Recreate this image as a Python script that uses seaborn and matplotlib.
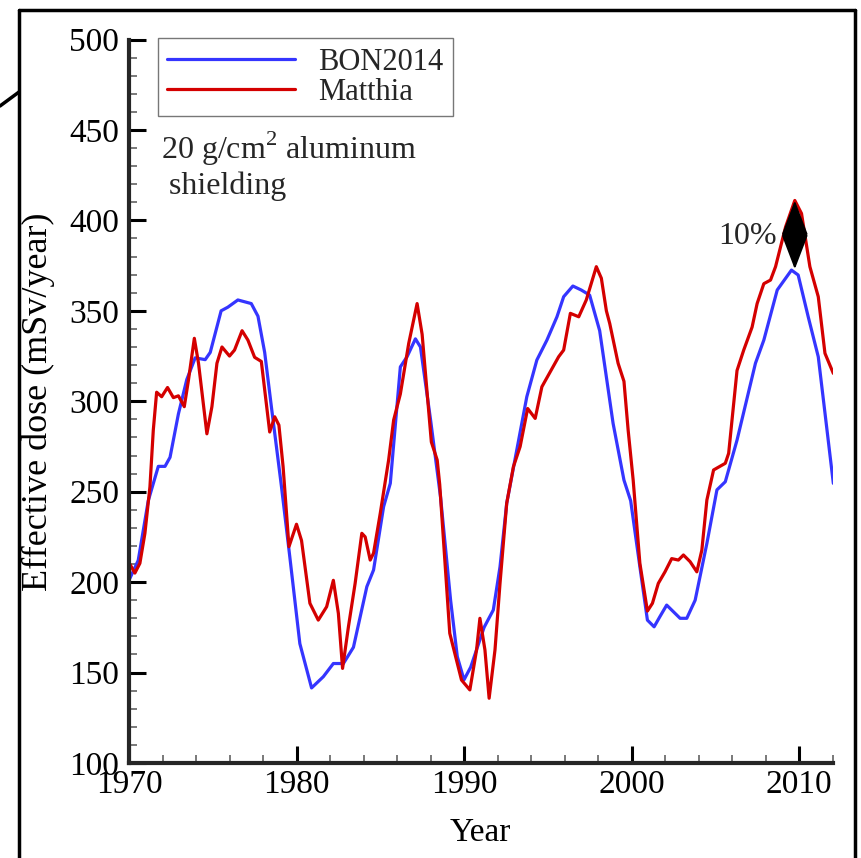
import numpy as np
import pandas as pd
import matplotlib
matplotlib.use("Agg")
import matplotlib.pyplot as plt
from matplotlib.lines import Line2D
from matplotlib.ticker import MultipleLocator
import seaborn as sns

# BON2014 model (blue)
bon_year = [1970.05, 1970.55, 1971.15, 1971.75, 1972.15, 1972.45, 1972.95, 1973.45, 1973.95, 1974.55,
            1974.85, 1975.5, 1975.9, 1976.5, 1977.3, 1977.7, 1978.1, 1978.5, 1979.1, 1979.6,
            1980.2, 1980.9, 1981.6, 1982.2, 1982.8, 1983.4, 1984.2, 1984.6, 1985.2, 1985.6,
            1986.2, 1986.6, 1987.1, 1987.4, 1988.0, 1988.6, 1989.2, 1989.6, 1990.0, 1990.4,
            1991.2, 1991.75, 1992.15, 1992.55, 1993.15, 1993.75, 1994.35, 1994.95, 1995.55, 1995.95,
            1996.5, 1997.0, 1997.5, 1998.1, 1998.9, 1999.55, 1999.95, 2000.5, 2000.95, 2001.35,
            2001.7, 2002.1, 2002.9, 2003.3, 2003.8, 2004.5, 2005.1, 2005.6, 2006.3, 2007.4,
            2007.9, 2008.7, 2009.55, 2009.95, 2010.55, 2011.15, 2011.65, 2012.05]
bon_dose = [202, 212, 245, 264, 264, 269, 293, 312, 324, 323,
            327, 350, 352, 356, 354, 347, 327, 297, 253, 214,
            166, 141.5, 147.7, 155, 155, 164, 197.5, 206.7, 241.7, 254.6,
            319, 324.6, 334.5, 330, 290, 247, 190, 158.8, 146, 153,
            175, 184.6, 208.5, 243.6, 273, 302.5, 322.8, 333.8, 346.7, 357.8,
            363.7, 361.5, 358.7, 339, 287.8, 256.4, 245, 208.5, 179, 175.3,
            181, 187.3, 180, 180, 190, 221.4, 251, 255.5, 278.5, 321,
            333.8, 361.5, 372.5, 369.8, 346.7, 324.6, 285.8, 254.6]

# Matthia model (red)
mat_year = [1970.05, 1970.35, 1970.65, 1970.95, 1971.25, 1971.45, 1971.65, 1971.95, 1972.3, 1972.65,
            1972.95, 1973.3, 1973.55, 1973.9, 1974.15, 1974.65, 1974.95, 1975.25, 1975.55, 1976.0,
            1976.3, 1976.75, 1977.1, 1977.5, 1977.9, 1978.4, 1978.7, 1978.95, 1979.2, 1979.55,
            1980.0, 1980.3, 1980.8, 1981.3, 1981.8, 1982.2, 1982.5, 1982.75, 1983.1, 1983.5,
            1983.9, 1984.1, 1984.4, 1984.6, 1985.0, 1985.5, 1985.8, 1986.2, 1986.7, 1987.2,
            1987.5, 1988.05, 1988.4, 1988.55, 1989.15, 1989.85, 1990.35, 1990.75, 1990.95, 1991.25,
            1991.5, 1991.85, 1992.15, 1992.55, 1992.95, 1993.35, 1993.8, 1994.25, 1994.65, 1995.15,
            1995.65, 1995.95, 1996.35, 1996.85, 1997.3, 1997.9, 1998.2, 1998.5, 1998.7, 1999.2,
            1999.55, 1999.8, 2000.1, 2000.5, 2000.95, 2001.25, 2001.6, 2002.0, 2002.4, 2002.8,
            2003.1, 2003.5, 2003.9, 2004.2, 2004.5, 2004.9, 2005.6, 2005.8, 2006.3, 2006.7,
            2007.2, 2007.5, 2007.9, 2008.3, 2008.6, 2009.2, 2009.75, 2010.15, 2010.65, 2011.15,
            2011.55, 2012.05]
mat_dose = [210, 205, 210.4, 227, 252.7, 284, 305, 302.5, 307.6, 302,
            303, 297, 311.7, 334.8, 321, 282, 297, 321, 330, 325,
            328.3, 339, 333.8, 324.3, 322, 283, 291.4, 286.8, 263.8, 219.6,
            232, 223, 188.3, 179, 186.4, 201, 182.7, 152.3, 175.3, 199.3,
            227, 225, 212.2, 216, 238, 267.5, 289.6, 304, 332, 354,
            337, 277.5, 267.5, 254, 171.7, 145.9, 140.4, 162.5, 180, 162.5,
            135.8, 162.5, 199.3, 243.6, 263.8, 274.9, 296, 290.5, 308, 316.3,
            324.6, 328.3, 348.6, 346.7, 356, 374.4, 368, 350, 343, 321,
            311, 284, 256.4, 210.4, 184, 188.3, 199.3, 205.7, 213, 212.2,
            215, 211.3, 205.7, 217.7, 245.4, 262, 265.7, 271.2, 317, 328.3,
            341, 354, 365, 367, 374.4, 396.4, 411, 403.8, 374.4, 357.8,
            326.5, 315.4]

models = ["BON2014", "Matthia"]
colors = ["#3535ff", "#d40000"]

# peak difference marked with the "10%" arrow
arrow_year = 2009.75
arrow_top, arrow_bottom = 411, 373

df = pd.concat([
    pd.DataFrame({"year": bon_year, "dose": bon_dose, "model": models[0]}),
    pd.DataFrame({"year": mat_year, "dose": mat_dose, "model": models[1]}),
], ignore_index=True)

sns.set_style("ticks")
plt.rcParams["font.family"] = ["Liberation Serif", "DejaVu Serif"]
plt.rcParams["mathtext.fontset"] = "custom"
plt.rcParams["mathtext.rm"] = "Liberation Serif"

W, H = 861, 858
fig = plt.figure(figsize=(W / 100, H / 100), dpi=100)
ax = fig.add_axes([129 / W, 1 - 763 / H, (832.5 - 129) / W, (763 - 39.5) / H])

sns.lineplot(data=df, x="year", y="dose", hue="model", palette=dict(zip(models, colors)),
             estimator=None, sort=True, linewidth=2.3, ax=ax)

ax.set_xlim(1970, 2012)
ax.set_ylim(100, 500)
ax.xaxis.set_major_locator(MultipleLocator(10))
ax.xaxis.set_minor_locator(MultipleLocator(2))
ax.yaxis.set_major_locator(MultipleLocator(50))
ax.yaxis.set_minor_locator(MultipleLocator(10))

for s in ["top", "right"]:
    ax.spines[s].set_visible(False)
for s in ["left", "bottom"]:
    ax.spines[s].set_linewidth(3)
ax.tick_params(which="major", direction="in", length=12, width=2.2, labelsize=24,
               color="black", labelcolor="black")
ax.tick_params(which="minor", direction="in", length=6, width=1.1, color="#555555")
ax.tick_params(axis="x", which="major", pad=5)
ax.tick_params(axis="y", which="major", pad=7)

ax.set_xlabel("Year", fontsize=24, labelpad=12, color="black")
ax.set_ylabel("Effective dose (mSv/year)", fontsize=26, labelpad=10, color="black")

handles = [Line2D([], [], color=c, lw=2.3) for c in colors]
leg = ax.legend(handles, models, loc="upper left", bbox_to_anchor=(0.041, 1.0015),
                borderaxespad=0, fontsize=22, handlelength=4.2, handletextpad=0.75,
                labelspacing=0.05, borderpad=0.3, fancybox=False, framealpha=1)
leg.get_frame().set_edgecolor("#777777")
leg.get_frame().set_linewidth(1.0)

ax.text(0.045, 0.875, "20 g/cm$^2$ aluminum\n shielding", transform=ax.transAxes,
        fontsize=23, ha="left", va="top", linespacing=1.15)

ax.text(2006.9, 391, "10%", fontsize=23, ha="center", va="center")
# two arrow heads meeting in the middle, with a small gap and bar like the original
mid = (arrow_top + arrow_bottom) / 2
arrow_kw = dict(arrowstyle="-|>,head_length=1.1,head_width=0.42", mutation_scale=20,
                color="black", lw=1.5, shrinkA=0, shrinkB=0)
ax.annotate("", xy=(arrow_year, arrow_top), xytext=(arrow_year, mid + 1.2), arrowprops=arrow_kw)
ax.annotate("", xy=(arrow_year, arrow_bottom), xytext=(arrow_year, mid - 1.2), arrowprops=arrow_kw)
ax.plot([arrow_year - 0.3, arrow_year + 0.3], [mid, mid], color="black", lw=1.2)

# outer frame pieces around the figure
fig.add_artist(Line2D([19 / W, 19 / W], [0, 1 - 10 / H], color="black", lw=2.5, transform=fig.transFigure))
fig.add_artist(Line2D([19 / W, 855 / W], [1 - 10 / H, 1 - 10 / H], color="black", lw=2.5, transform=fig.transFigure))
fig.add_artist(Line2D([855 / W, 855 / W], [0, 1 - 10 / H], color="black", lw=2.5, transform=fig.transFigure))
fig.add_artist(Line2D([0, 19 / W], [1 - 106 / H, 1 - 92 / H], color="black", lw=2.5, transform=fig.transFigure))

fig.savefig("out.png", dpi=100)
